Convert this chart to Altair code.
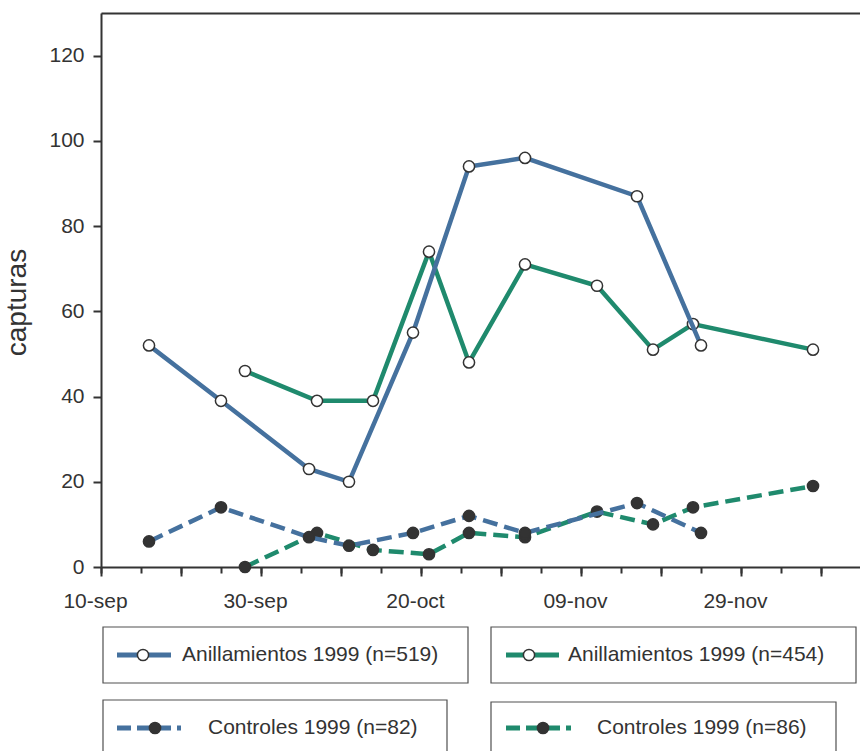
import altair as alt
import pandas as pd

# ---------------- data ----------------
# capture days of each group (1999)
blue_dates = ["1999-09-16", "1999-09-25", "1999-10-06", "1999-10-11", "1999-10-19",
              "1999-10-26", "1999-11-02", "1999-11-16", "1999-11-24"]
green_dates = ["1999-09-28", "1999-10-07", "1999-10-14", "1999-10-21", "1999-10-26",
               "1999-11-02", "1999-11-11", "1999-11-18", "1999-11-23", "1999-12-08"]

anill_blue = [52, 39, 23, 20, 55, 94, 96, 87, 52]
ctrl_blue = [6, 14, 7, 5, 8, 12, 8, 15, 8]
anill_green = [46, 39, 39, 74, 48, 71, 66, 51, 57, 51]
ctrl_green = [0, 8, 4, 3, 8, 7, 13, 10, 14, 19]

series_names = ["Anillamientos 1999 (n=519)", "Anillamientos 1999 (n=454)",
                "Controles 1999 (n=82)", "Controles 1999 (n=86)"]

y_ticks = [0, 20, 40, 60, 80, 100, 120]

# ---------------- styling ----------------
BLUE = "#45719e"
GREEN = "#1f8a6d"
INK = "#333333"
FONT = "Liberation Sans"
DASH = [15, 7]
MARK_SIZE = 125

# drawing order: controls first, then ringing counts; green under blue
series = [
    (series_names[3], "Controles", GREEN, green_dates, ctrl_green),
    (series_names[2], "Controles", BLUE, blue_dates, ctrl_blue),
    (series_names[1], "Anillamientos", GREEN, green_dates, anill_green),
    (series_names[0], "Anillamientos", BLUE, blue_dates, anill_blue),
]

rows = []
for name, kind, color, dates, vals in series:
    for d, v in zip(dates, vals):
        rows.append({"serie": name, "tipo": kind, "fecha": d, "capturas": v})
df = pd.DataFrame(rows)

start = pd.Timestamp("1999-09-10", tz="UTC")
start_ms = int(start.value // 10**6)


def dt(ts):
    return alt.DateTime(year=ts.year, month=ts.month, date=ts.day, utc=True)


x_scale = alt.Scale(type="utc",
                    domain=[dt(start), alt.DateTime(year=1999, month=12, date=13, hours=21, utc=True)])
y_scale = alt.Scale(domain=[0, 130], nice=False, zero=True)

major_vals = [dt(t) for t in pd.date_range("1999-09-10", "1999-12-09", freq="10D", tz="UTC")]
minor_vals = [dt(t) for t in pd.date_range("1999-09-10", "1999-12-09", freq="5D", tz="UTC")]

label_expr = (
    f"(round((datum.value - {start_ms}) / 86400000) % 20 == 0) ? "
    "utcFormat(datum.value, '%d') + '-' + lower(utcFormat(datum.value, '%b')) : ''"
)

y_axis = alt.Axis(values=y_ticks, title="capturas", grid=False,
                  domainColor=INK, domainWidth=2, tickColor=INK, tickWidth=2, tickSize=8,
                  labelFont=FONT, labelFontSize=21, labelColor=INK, labelPadding=9,
                  titleFont=FONT, titleFontSize=28, titleFontWeight="normal", titleColor=INK,
                  titleAngle=270, titleAlign="center", titleBaseline="alphabetic",
                  titleX=-76, titleY=289)

Y = alt.Y("capturas:Q", scale=y_scale, axis=y_axis)
X_plain = alt.X("fecha:T", scale=x_scale, axis=None)

layers = []

# axis carriers: labelled 10-day ticks, 5-day minor ticks, and the top frame line
major_axis = alt.Axis(values=major_vals, orient="bottom", grid=False, title=None,
                      domainColor=INK, domainWidth=2, tickColor=INK, tickWidth=2, tickSize=9,
                      labelExpr=label_expr, labelFont=FONT, labelFontSize=21, labelColor=INK,
                      labelPadding=14, labelOffset=-6, labelOverlap=False, labelFlush=False)
minor_axis = alt.Axis(values=minor_vals, orient="bottom", grid=False, title=None,
                      domain=False, labels=False, tickColor=INK, tickWidth=2, tickSize=6)
top_axis = alt.Axis(orient="top", grid=False, title=None, ticks=False, labels=False,
                    domainColor=INK, domainWidth=2)

for ax in (major_axis, minor_axis, top_axis):
    layers.append(
        alt.Chart(df).mark_point(opacity=0).encode(
            x=alt.X("fecha:T", scale=x_scale, axis=ax), y=Y)
    )

for name, kind, color, dates, vals in series:
    sub = alt.Chart(df).transform_filter(alt.datum.serie == name)
    line_kw = dict(color=color, strokeWidth=4.5, strokeCap="butt")
    if kind == "Controles":
        line_kw["strokeDash"] = DASH
    layers.append(sub.mark_line(**line_kw).encode(x=X_plain, y=Y))
    fill = INK if kind == "Controles" else "white"
    layers.append(
        sub.mark_point(filled=True, fill=fill, stroke=INK, strokeWidth=1.5,
                       size=MARK_SIZE, opacity=1).encode(x=X_plain, y=Y)
    )

# ---------------- boxed legend below the plot (pixel layout) ----------------
box_x = [(2, 367), (390, 755), (2, 346), (390, 735)]
box_y = [(614, 670), (614, 670), (687, 760), (689, 760)]
swatch_x = [(16, 70), (405, 458), (16, 80), (405, 470)]
marker_x = [42, 428, 54, 442]
text_x = [81, 467, 107, 496]
row_y = [642, 642, 715, 715]
colors = [BLUE, GREEN, BLUE, GREEN]

leg = pd.DataFrame({
    "label": series_names,
    "color": colors,
    "bx": [b[0] for b in box_x], "bx2": [b[1] for b in box_x],
    "by": [b[0] for b in box_y], "by2": [b[1] for b in box_y],
    "sx": [s[0] for s in swatch_x], "sx2": [s[1] for s in swatch_x],
    "mx": marker_x, "tx": text_x, "ty": row_y,
    "tipo": ["Anillamientos", "Anillamientos", "Controles", "Controles"],
})

L = alt.Chart(leg)
layers.append(
    L.mark_rect(fill="white", stroke="#505050", strokeWidth=1.2).encode(
        x=alt.X("bx:Q", scale=None, axis=None), x2="bx2:Q",
        y=alt.Y("by:Q", scale=None, axis=None), y2="by2:Q")
)
for kind, dash in (("Anillamientos", None), ("Controles", [14, 6])):
    kw = dict(strokeWidth=5, strokeCap="butt")
    if dash:
        kw["strokeDash"] = dash
    layers.append(
        L.transform_filter(alt.datum.tipo == kind).mark_rule(**kw).encode(
            x=alt.X("sx:Q", scale=None, axis=None), x2="sx2:Q",
            y=alt.Y("ty:Q", scale=None, axis=None),
            color=alt.Color("color:N", scale=None, legend=None))
    )
    layers.append(
        L.transform_filter(alt.datum.tipo == kind).mark_point(
            filled=True, fill=INK if kind == "Controles" else "white", stroke=INK,
            strokeWidth=1.5, size=MARK_SIZE, opacity=1).encode(
            x=alt.X("mx:Q", scale=None, axis=None),
            y=alt.Y("ty:Q", scale=None, axis=None))
    )
layers.append(
    L.mark_text(align="left", baseline="middle", font=FONT, fontSize=21, color=INK).encode(
        x=alt.X("tx:Q", scale=None, axis=None),
        y=alt.Y("ty:Q", scale=None, axis=None),
        text="label:N")
)

chart = alt.layer(*layers).resolve_axis(x="independent").properties(
    width=759, height=554,
    autosize=alt.AutoSizeParams(type="none"),
    padding={"left": 101, "top": 13, "right": 0, "bottom": 184},
).configure_view(stroke=None).configure(background="white")

chart.save("out.html", embed_options={"renderer": "svg", "actions": False})
